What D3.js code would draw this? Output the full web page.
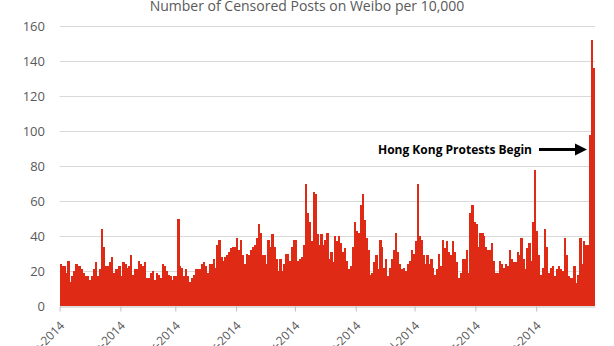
<!DOCTYPE html>
<html>
<head>
<meta charset="utf-8">
<script src="https://cdn.jsdelivr.net/npm/d3@7"></script>
<style>
  body { margin: 0; background: #fff; }
  svg { display: block; }
</style>
</head>
<body>
<div id="chart"></div>
<script>
const width = 614;
const height = 346;
const marginLeft = 59.6;
const marginRight = 19;
const yTop = 26;
const yBottom = 306;

const startDate = '2014-01-01';
const yTicks = [0, 20, 40, 60, 80, 100, 120, 140, 160];
const monthCount = 9; // Jan..Sep labels

// daily censored posts per 10,000, Jan 1 - Sep 30 2014
const janFeb = [24, 23, 23, 19, 26, 14, 17, 20, 24, 23, 23, 21, 19, 17, 17, 15, 17, 21, 25, 17, 21, 44, 34, 23, 23, 25, 28, 19, 21, 21, 23, 17, 25, 24, 22, 23, 29, 18, 21, 21, 26, 24, 23, 25, 16, 16, 19, 20, 15, 19, 18, 16];
const marMay = [24, 23, 20, 18, 17, 15, 17, 17, 50, 23, 22, 17, 21, 17, 14, 16, 18, 21, 21, 21, 24, 25, 23, 19, 24, 24, 27, 22, 35, 38, 28, 26, 28, 29, 31, 33, 34, 34, 39, 32, 38, 29, 24, 30, 29, 32, 34, 35, 39, 47, 42, 29, 29, 24, 38, 34, 41, 34, 27, 20, 27, 20, 24, 30, 30, 26, 34, 38, 38, 26, 27, 28, 35, 70, 53, 48];
const mayJul = [37, 65, 64, 41, 35, 41, 35, 38, 42, 27, 31, 25, 40, 37, 40, 36, 31, 33, 26, 21, 23, 34, 48, 43, 42, 58, 64, 49, 39, 32, 18, 19, 25, 29, 21, 38, 34, 22, 27, 17, 22, 27, 32, 42, 31, 24, 21, 22, 20, 24, 26, 32, 30, 37, 70, 40, 38, 29, 24, 29, 24, 27, 22, 18, 21, 30, 23, 38, 33, 37, 31, 29, 37, 31, 25, 16];
const julSep = [19, 27, 27, 32, 19, 53, 58, 48, 47, 34, 42, 42, 40, 34, 32, 32, 36, 26, 19, 19, 26, 24, 22, 24, 23, 32, 27, 25, 25, 31, 29, 39, 27, 21, 33, 36, 26, 48, 78, 43, 29, 18, 22, 44, 34, 19, 22, 23, 17, 21, 23, 21, 20, 39, 29, 17, 16, 16, 23, 13, 18, 39, 24, 37, 35, 35, 98, 152, 136];

const values = [...janFeb, ...marMay, ...mayJul, ...julSep];
const parse = d3.utcParse('%Y-%m-%d');
const start = parse(startDate);
const data = values.map((v, i) => ({ date: d3.utcDay.offset(start, i), value: v }));

const svg = d3.select('#chart')
    .append('svg')
    .attr('width', width)
    .attr('height', height);

const x = d3.scaleUtc()
    .domain([start, d3.utcDay.offset(start, values.length)])
    .range([marginLeft, width - marginRight]);

const y = d3.scaleLinear()
    .domain([0, 160])
    .range([yBottom, yTop]);

// gridlines
svg.append('g')
    .selectAll('line')
    .data(yTicks.slice(1))
    .enter()
    .append('line')
    .attr('x1', marginLeft)
    .attr('x2', width - marginRight)
    .attr('y1', (d) => Math.round(y(d)) + 0.5)
    .attr('y2', (d) => Math.round(y(d)) + 0.5)
    .attr('stroke', '#d9d9d9')
    .attr('stroke-width', 1);

// bars
svg.append('g')
    .attr('shape-rendering', 'crispEdges')
    .selectAll('rect')
    .data(data)
    .enter()
    .append('rect')
    .attr('x', (d) => x(d.date))
    .attr('width', (d) => x(d3.utcDay.offset(d.date, 1)) - x(d.date) + 0.3)
    .attr('y', (d) => y(d.value))
    .attr('height', (d) => y(0) - y(d.value))
    .attr('fill', '#df2a15');

// y labels
svg.append('g')
    .selectAll('text')
    .data(yTicks)
    .enter()
    .append('text')
    .attr('x', 45)
    .attr('y', (d) => y(d))
    .attr('dy', '0.35em')
    .attr('text-anchor', 'end')
    .style('font-family', '"Open Sans", sans-serif')
    .style('font-size', '13px')
    .style('fill', '#595959')
    .text((d) => d);

// x axis
const xAxis = d3.axisBottom(x)
    .tickValues(d3.utcMonth.range(start, d3.utcMonth.offset(start, monthCount)))
    .tickFormat(d3.utcFormat('%b-%Y'))
    .tickSize(5)
    .tickSizeOuter(0);

const gx = svg.append('g')
    .attr('transform', `translate(0,${yBottom + 0.5})`)
    .call(xAxis);

gx.select('.domain').attr('stroke', '#bfbfbf');
gx.selectAll('.tick line').attr('stroke', '#bfbfbf');
gx.selectAll('.tick text')
    .attr('fill', '#595959')
    .style('font-family', '"Open Sans", sans-serif')
    .style('font-size', '12px')
    .attr('text-anchor', 'end')
    .attr('dy', null)
    .attr('y', 0)
    .attr('transform', 'translate(5,20) rotate(-45)');

// title
svg.append('text')
    .attr('x', 307)
    .attr('y', 11)
    .attr('text-anchor', 'middle')
    .style('font-family', '"Open Sans", sans-serif')
    .style('font-size', '14px')
    .style('fill', '#595959')
    .text('Number of Censored Posts on Weibo per 10,000');

// annotation
svg.append('text')
    .attr('x', 532)
    .attr('y', 154)
    .attr('text-anchor', 'end')
    .style('font-family', '"Open Sans", sans-serif')
    .style('font-size', '12px')
    .style('font-weight', 'bold')
    .style('fill', '#000')
    .text('Hong Kong Protests Begin');

svg.append('line')
    .attr('x1', 539)
    .attr('x2', 577)
    .attr('y1', 149.5)
    .attr('y2', 149.5)
    .attr('stroke', '#000')
    .attr('stroke-width', 3);

svg.append('path')
    .attr('d', 'M575,143.5 L587,149.5 L575,155.5 Z')
    .attr('fill', '#000');
</script>
</body>
</html>
